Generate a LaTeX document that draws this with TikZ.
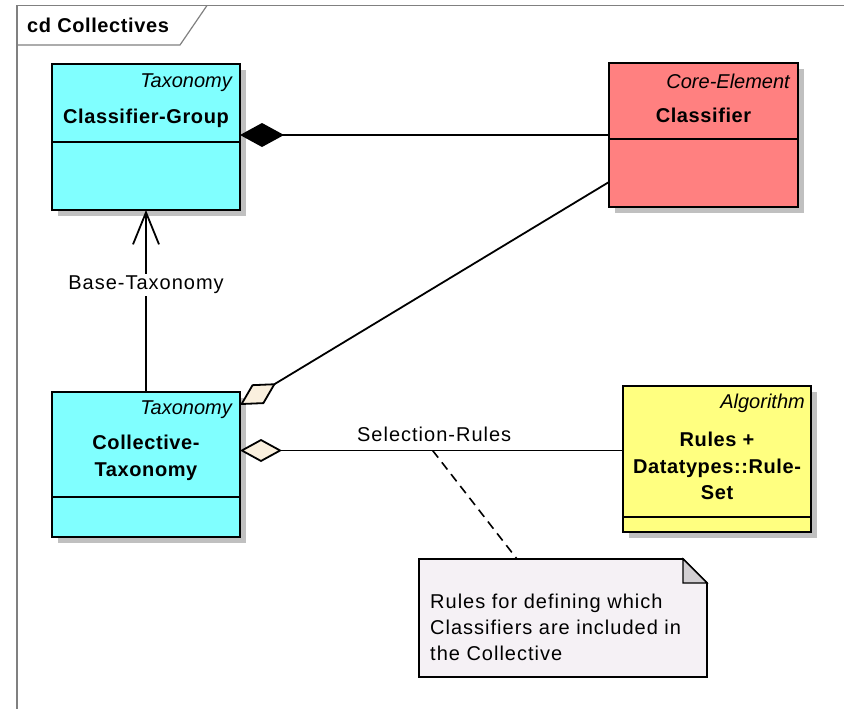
\documentclass[tikz,border=0pt]{standalone}
\usepackage{fontspec}
\setmainfont[LetterSpace=5, BoldFeatures={LetterSpace=3}, ItalicFeatures={LetterSpace=0}]{Liberation Sans}
\usetikzlibrary{arrows.meta,positioning,shadows}

\definecolor{taxcyan}{HTML}{80FFFF}
\definecolor{corered}{HTML}{FF8080}
\definecolor{algyellow}{HTML}{FFFF80}
\definecolor{aggrbeige}{HTML}{FAF0DE}
\definecolor{notefill}{HTML}{F5F1F5}
\definecolor{foldgray}{HTML}{D2CFD2}
\definecolor{shadowgray}{HTML}{C0C0C0}
\definecolor{framegray}{HTML}{808080}

\begin{document}
\begin{tikzpicture}[x=1pt, y=-1pt, font=\fontsize{20}{26}\selectfont,
  classbox/.style={draw, line width=2pt, anchor=north west, inner sep=0pt, outer sep=0pt, minimum width=188pt,
    drop shadow={shadow xshift=6pt, shadow yshift=-6pt, fill=shadowgray, opacity=1}},
  stereo/.style={font=\fontsize{20}{26}\selectfont\itshape, anchor=east, inner sep=0pt},
  cname/.style={font=\fontsize{20}{26.5}\selectfont\bfseries, align=center, inner sep=0pt},
  divider/.style={line width=1.8pt},
  assoc/.style={line width=1.8pt},
  aggr/.style={assoc, {Diamond[length=42pt,width=23pt,fill=aggrbeige]}-}]
\useasboundingbox (0,0) rectangle (844,709);

% diagram frame
\draw[framegray, line width=1.6pt] (17,709) -- (17,5.5) -- (844,5.5);
\node (title) [anchor=west, font=\fontsize{20}{24}\selectfont\bfseries, inner sep=0pt] at (27,25) {cd Collectives};
\draw[framegray, line width=1.2pt] (17,45) -- (180,45) -- (207,5.5);

% classes
\node (grp) [classbox, fill=taxcyan, minimum height=146pt] at (52,64) {};
\node (cls) [classbox, fill=corered, minimum width=189pt, minimum height=144pt] at (609,63) {};
\node (coll) [classbox, fill=taxcyan, minimum height=145pt] at (52,392) {};
\node (alg) [classbox, fill=algyellow, minimum height=146pt] at (623,386) {};

\node (grp-st) [stereo] at ([xshift=-8pt,yshift=-19pt]grp.north east) {Taxonomy};
\node (grp-nm) [cname] at ([yshift=-54pt]grp.north) {Classifier-Group};
\draw[divider] ([yshift=-78pt]grp.north west) -- ([yshift=-78pt]grp.north east);

\node (cls-st) [stereo] at ([xshift=-8pt,yshift=-18pt]cls.north east) {Core-Element};
\node (cls-nm) [cname] at ([yshift=-52pt]cls.north) {Classifier};
\draw[divider] ([yshift=-76pt]cls.north west) -- ([yshift=-76pt]cls.north east);

\node (coll-st) [stereo] at ([xshift=-8pt,yshift=-18pt]coll.north east) {Taxonomy};
\node (coll-nm) [cname] at ([yshift=-66pt]coll.north) {Collective-\\Taxonomy};
\draw[divider] ([yshift=-105pt]coll.north west) -- ([yshift=-105pt]coll.north east);

\node (alg-st) [stereo] at ([xshift=-6pt,yshift=-17pt]alg.north east) {Algorithm};
\node (alg-nm) [cname] at ([yshift=-80pt]alg.north) {Rules +\\Datatypes::Rule-\\Set};
\draw[divider] ([yshift=-131pt]alg.north west) -- ([yshift=-131pt]alg.north east);

% note
\node (note) [anchor=north west, minimum width=288pt, minimum height=118pt, inner sep=0pt, outer sep=0pt] at (419,559) {};
\draw[line width=1.8pt, fill=notefill] (note.north west) -- ([xshift=-24pt]note.north east) -- ([yshift=-24pt]note.north east) -- (note.south east) -- (note.south west) -- cycle;
\draw[line width=1.4pt, fill=foldgray] ([xshift=-24pt]note.north east) -- ([xshift=-24pt,yshift=-24pt]note.north east) -- ([yshift=-24pt]note.north east) -- cycle;
\node (note-txt) [anchor=north west, align=left, inner sep=0pt] at ([xshift=11pt,yshift=-35pt]note.north west) {Rules for defining which\\Classifiers are included in\\the Collective};

% associations
\draw[assoc, {Diamond[length=44pt,width=24pt,fill=black]}-] (grp.east |- cls.west) -- (cls.west);
\draw[assoc, -{Straight Barb[length=32pt,width=26pt]}] (coll.north) -- node[pos=0.59, fill=white, inner sep=2pt] {Base-Taxonomy} (grp.south);
\draw[aggr] ([yshift=-13pt]coll.north east) -- ([yshift=25pt]cls.south west);
\draw[aggr] ([yshift=14pt]coll.east) -- coordinate[pos=0.503] (selmid) node[pos=0.507, yshift=16pt] {Selection-Rules} ([yshift=14pt]coll.east -| alg.west);
\draw[line width=1.6pt, dash pattern=on 9pt off 6pt] (selmid) -- ([xshift=98pt]note.north west);
\end{tikzpicture}
\end{document}
